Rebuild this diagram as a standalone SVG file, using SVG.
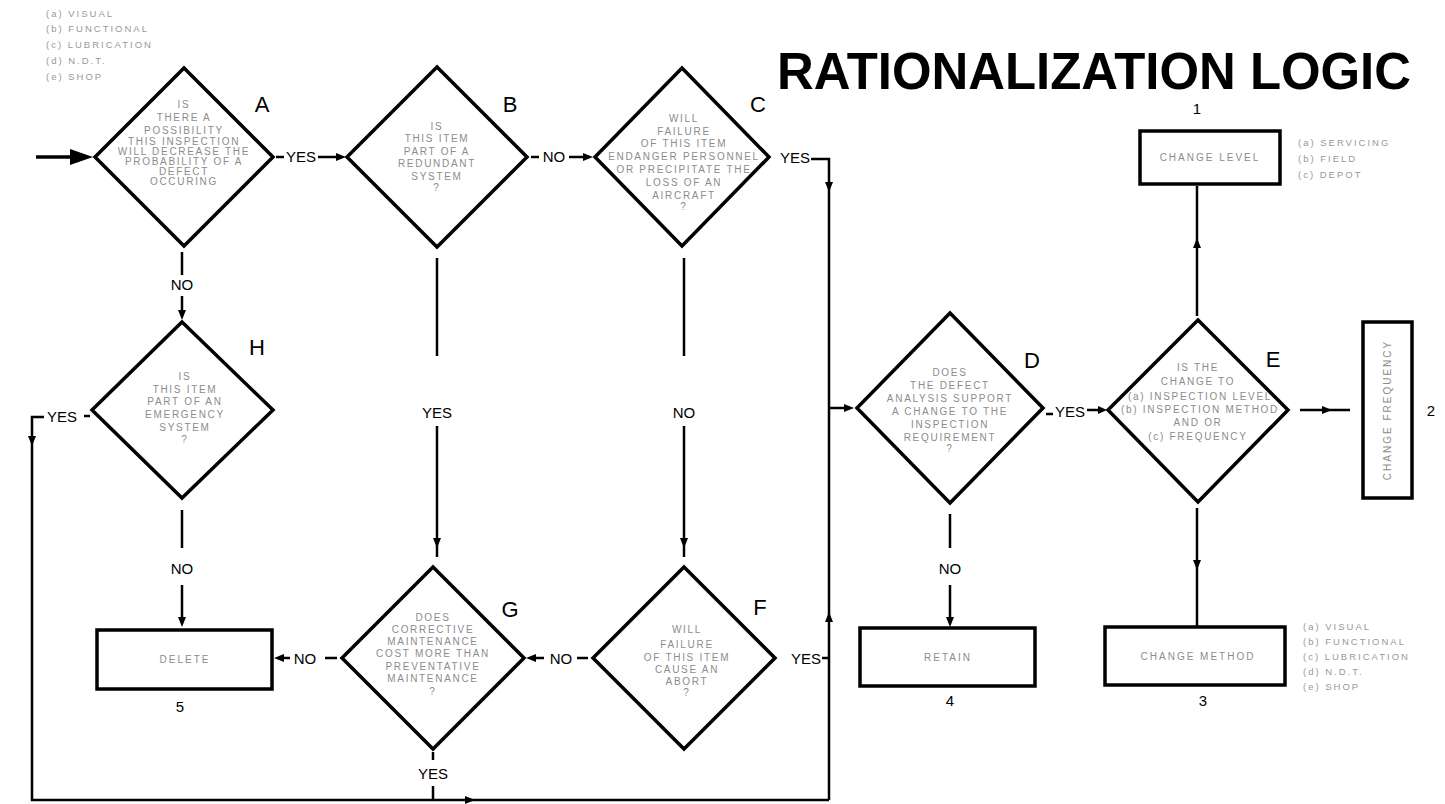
<svg xmlns="http://www.w3.org/2000/svg" width="1445" height="804" viewBox="0 0 1445 804">
<style>
.dia{fill:#fff;stroke:#000;stroke-width:3.5;stroke-linejoin:miter}
.box{fill:#fff;stroke:#000;stroke-width:3.5}
.ln{fill:none;stroke:#000;stroke-width:2.5}
.ah{fill:#000}
.q{font-family:"Liberation Sans",Arial,sans-serif;font-size:10px;letter-spacing:1.7px;fill:#8c8c8c;text-anchor:middle}
.lg{font-family:"Liberation Sans",Arial,sans-serif;font-size:9.5px;letter-spacing:2px;fill:#999}
.bl{font-family:"Liberation Sans",Arial,sans-serif;font-size:10px;letter-spacing:2px;fill:#8c8c8c;text-anchor:middle}
.yn{font-family:"Liberation Sans",Arial,sans-serif;font-size:15px;fill:#000;text-anchor:middle}
.let{font-family:"Liberation Sans",Arial,sans-serif;font-size:22px;fill:#000;text-anchor:middle}
.num{font-family:"Liberation Sans",Arial,sans-serif;font-size:15px;fill:#000;text-anchor:middle}
.title{font-family:"Liberation Sans",Arial,sans-serif;font-size:52px;font-weight:bold;fill:#000}
</style>
<rect width="1445" height="804" fill="#fff"/>
<text class="title" x="777" y="89" textLength="634" lengthAdjust="spacingAndGlyphs">RATIONALIZATION LOGIC</text>
<g id="legend-left">
<text class="lg" x="46" y="17">(a) VISUAL</text>
<text class="lg" x="46" y="32">(b) FUNCTIONAL</text>
<text class="lg" x="46" y="48">(c) LUBRICATION</text>
<text class="lg" x="46" y="64">(d) N.D.T.</text>
<text class="lg" x="46" y="80">(e) SHOP</text>
</g>
<g id="connectors">
<line class="ln" x1="36" y1="157" x2="75" y2="157" style="stroke-width:3.5"/>
<polygon class="ah" points="70,149 93,157 70,165"/>
<line class="ln" x1="276" y1="157" x2="284" y2="157"/>
<text class="yn" x="301" y="162">YES</text>
<line class="ln" x1="318" y1="157" x2="338" y2="157"/>
<polygon class="ah" points="336,153 346,157 336,161"/>
<line class="ln" x1="531" y1="157" x2="539" y2="157"/>
<text class="yn" x="554" y="162">NO</text>
<line class="ln" x1="569" y1="157" x2="585" y2="157"/>
<polygon class="ah" points="583,153 593,157 583,161"/>
<text class="yn" x="795" y="163">YES</text>
<path class="ln" d="M811,159 H829 V800"/>
<polygon class="ah" points="825,182 829,192 833,182"/>
<line class="ln" x1="829" y1="408" x2="846" y2="408"/>
<polygon class="ah" points="844,404 854,408 844,412"/>
<text class="yn" x="806" y="664">YES</text>
<line class="ln" x1="822" y1="658" x2="829" y2="658"/>
<polygon class="ah" points="825,622 829,612 833,622"/>
<line class="ln" x1="182" y1="252" x2="182" y2="275"/>
<text class="yn" x="182" y="290">NO</text>
<line class="ln" x1="182" y1="296" x2="182" y2="312"/>
<polygon class="ah" points="178,310 182,320 186,310"/>
<line class="ln" x1="437" y1="258" x2="437" y2="356"/>
<text class="yn" x="437" y="418">YES</text>
<line class="ln" x1="437" y1="426" x2="437" y2="557"/>
<polygon class="ah" points="433,538 437,548 441,538"/>
<line class="ln" x1="684" y1="258" x2="684" y2="356"/>
<text class="yn" x="684" y="418">NO</text>
<line class="ln" x1="684" y1="426" x2="684" y2="557"/>
<polygon class="ah" points="680,538 684,548 688,538"/>
<line class="ln" x1="577" y1="658" x2="588" y2="658"/>
<text class="yn" x="561" y="664">NO</text>
<line class="ln" x1="534" y1="658" x2="544" y2="658"/>
<polygon class="ah" points="536,654 526,658 536,662"/>
<line class="ln" x1="325" y1="658" x2="337" y2="658"/>
<text class="yn" x="305" y="664">NO</text>
<line class="ln" x1="282" y1="658" x2="290" y2="658"/>
<polygon class="ah" points="284,654 274,658 284,662"/>
<line class="ln" x1="182" y1="510" x2="182" y2="548"/>
<text class="yn" x="182" y="574">NO</text>
<line class="ln" x1="182" y1="585" x2="182" y2="620"/>
<polygon class="ah" points="178,617 182,627 186,617"/>
<line class="ln" x1="84" y1="416" x2="90" y2="416"/>
<text class="yn" x="62" y="422">YES</text>
<path class="ln" d="M44,417 H32 V800 H829"/>
<polygon class="ah" points="28,436 32,446 36,436"/>
<polygon class="ah" points="465,796 475,800 465,804"/>
<line class="ln" x1="433" y1="752" x2="433" y2="760"/>
<text class="yn" x="433" y="779">YES</text>
<line class="ln" x1="433" y1="786" x2="433" y2="800"/>
<line class="ln" x1="950" y1="514" x2="950" y2="548"/>
<text class="yn" x="950" y="574">NO</text>
<line class="ln" x1="950" y1="585" x2="950" y2="620"/>
<polygon class="ah" points="946,617 950,627 954,617"/>
<line class="ln" x1="1046" y1="414" x2="1053" y2="414"/>
<text class="yn" x="1070" y="417">YES</text>
<line class="ln" x1="1087" y1="410" x2="1100" y2="410"/>
<polygon class="ah" points="1098,406 1107,410 1098,414"/>
<line class="ln" x1="1197" y1="316" x2="1197" y2="186"/>
<polygon class="ah" points="1193,248 1197,238 1201,248"/>
<line class="ln" x1="1197" y1="508" x2="1197" y2="626"/>
<polygon class="ah" points="1193,560 1197,570 1201,560"/>
<line class="ln" x1="1300" y1="410" x2="1350" y2="410"/>
<polygon class="ah" points="1322,406 1332,410 1322,414"/>
</g>
<g id="node-A">
<polygon class="dia" points="184,68 273,157 184,246 95,157"/>
<text class="q" x="184" y="108">IS</text>
<text class="q" x="184" y="121">THERE A</text>
<text class="q" x="184" y="134">POSSIBILITY</text>
<text class="q" x="184" y="145">THIS INSPECTION</text>
<text class="q" x="184" y="155">WILL DECREASE THE</text>
<text class="q" x="184" y="165">PROBABILITY OF A</text>
<text class="q" x="184" y="175">DEFECT</text>
<text class="q" x="184" y="185">OCCURING</text>
<text class="let" x="262" y="112">A</text>
</g>
<g id="node-B">
<polygon class="dia" points="437,67 527,157 437,247 347,157"/>
<text class="q" x="437" y="130">IS</text>
<text class="q" x="437" y="142">THIS ITEM</text>
<text class="q" x="437" y="155">PART OF A</text>
<text class="q" x="437" y="167">REDUNDANT</text>
<text class="q" x="437" y="180">SYSTEM</text>
<text class="q" x="437" y="191">?</text>
<text class="let" x="510" y="112">B</text>
</g>
<g id="node-C">
<polygon class="dia" points="682,68 769,157 682,246 595,157"/>
<text class="q" x="684" y="122">WILL</text>
<text class="q" x="684" y="135">FAILURE</text>
<text class="q" x="684" y="147">OF THIS ITEM</text>
<text class="q" x="684" y="160">ENDANGER PERSONNEL</text>
<text class="q" x="684" y="173">OR PRECIPITATE THE</text>
<text class="q" x="684" y="186">LOSS OF AN</text>
<text class="q" x="684" y="199">AIRCRAFT</text>
<text class="q" x="684" y="210">?</text>
<text class="let" x="758" y="112">C</text>
</g>
<g id="node-D">
<polygon class="dia" points="950,313 1043,408 950,503 857,408"/>
<text class="q" x="950" y="376">DOES</text>
<text class="q" x="950" y="389">THE DEFECT</text>
<text class="q" x="950" y="402">ANALYSIS SUPPORT</text>
<text class="q" x="950" y="415">A CHANGE TO THE</text>
<text class="q" x="950" y="428">INSPECTION</text>
<text class="q" x="950" y="441">REQUIREMENT</text>
<text class="q" x="950" y="452">?</text>
<text class="let" x="1032" y="368">D</text>
</g>
<g id="node-E">
<polygon class="dia" points="1198,320 1288,410 1198,502 1108,410"/>
<text class="q" x="1198" y="371">IS THE</text>
<text class="q" x="1198" y="385">CHANGE TO</text>
<text class="q" x="1200" y="400">(a) INSPECTION LEVEL</text>
<text class="q" x="1200" y="413">(b) INSPECTION METHOD</text>
<text class="q" x="1198" y="426">AND OR</text>
<text class="q" x="1198" y="440">(c) FREQUENCY</text>
<text class="let" x="1273" y="367">E</text>
</g>
<g id="node-F">
<polygon class="dia" points="684,567 775,658 684,749 593,658"/>
<text class="q" x="687" y="633">WILL</text>
<text class="q" x="687" y="648">FAILURE</text>
<text class="q" x="687" y="661">OF THIS ITEM</text>
<text class="q" x="687" y="673">CAUSE AN</text>
<text class="q" x="687" y="685">ABORT</text>
<text class="q" x="687" y="696">?</text>
<text class="let" x="760" y="615">F</text>
</g>
<g id="node-G">
<polygon class="dia" points="433,567 524,658 433,749 342,658"/>
<text class="q" x="433" y="621">DOES</text>
<text class="q" x="433" y="633">CORRECTIVE</text>
<text class="q" x="433" y="645">MAINTENANCE</text>
<text class="q" x="433" y="657">COST MORE THAN</text>
<text class="q" x="433" y="670">PREVENTATIVE</text>
<text class="q" x="433" y="682">MAINTENANCE</text>
<text class="q" x="433" y="695">?</text>
<text class="let" x="510" y="617">G</text>
</g>
<g id="node-H">
<polygon class="dia" points="182,322 273,410 182,498 92,410"/>
<text class="q" x="185" y="380">IS</text>
<text class="q" x="185" y="393">THIS ITEM</text>
<text class="q" x="185" y="405">PART OF AN</text>
<text class="q" x="185" y="418">EMERGENCY</text>
<text class="q" x="185" y="431">SYSTEM</text>
<text class="q" x="185" y="443">?</text>
<text class="let" x="257" y="355">H</text>
</g>
<g id="node-1">
<rect class="box" x="1140" y="131" width="140" height="53"/>
<text class="bl" x="1210" y="161">CHANGE LEVEL</text>
<text class="num" x="1197" y="114">1</text>
<text class="lg" x="1298" y="146">(a) SERVICING</text>
<text class="lg" x="1298" y="162">(b) FIELD</text>
<text class="lg" x="1298" y="178">(c) DEPOT</text>
</g>
<g id="node-2">
<rect class="box" x="1363" y="322" width="49" height="176"/>
<text class="bl" transform="translate(1391,410) rotate(-90)" x="0" y="0">CHANGE FREQUENCY</text>
<text class="num" x="1431" y="416">2</text>
</g>
<g id="node-3">
<rect class="box" x="1105" y="627" width="180" height="58"/>
<text class="bl" x="1198" y="660">CHANGE METHOD</text>
<text class="num" x="1203" y="706">3</text>
<text class="lg" x="1303" y="630">(a) VISUAL</text>
<text class="lg" x="1303" y="645">(b) FUNCTIONAL</text>
<text class="lg" x="1303" y="660">(c) LUBRICATION</text>
<text class="lg" x="1303" y="675">(d) N.D.T.</text>
<text class="lg" x="1303" y="690">(e) SHOP</text>
</g>
<g id="node-4">
<rect class="box" x="860" y="628" width="175" height="58"/>
<text class="bl" x="948" y="661">RETAIN</text>
<text class="num" x="950" y="706">4</text>
</g>
<g id="node-5">
<rect class="box" x="97" y="630" width="175" height="59"/>
<text class="bl" x="185" y="663">DELETE</text>
<text class="num" x="180" y="712">5</text>
</g>
</svg>
